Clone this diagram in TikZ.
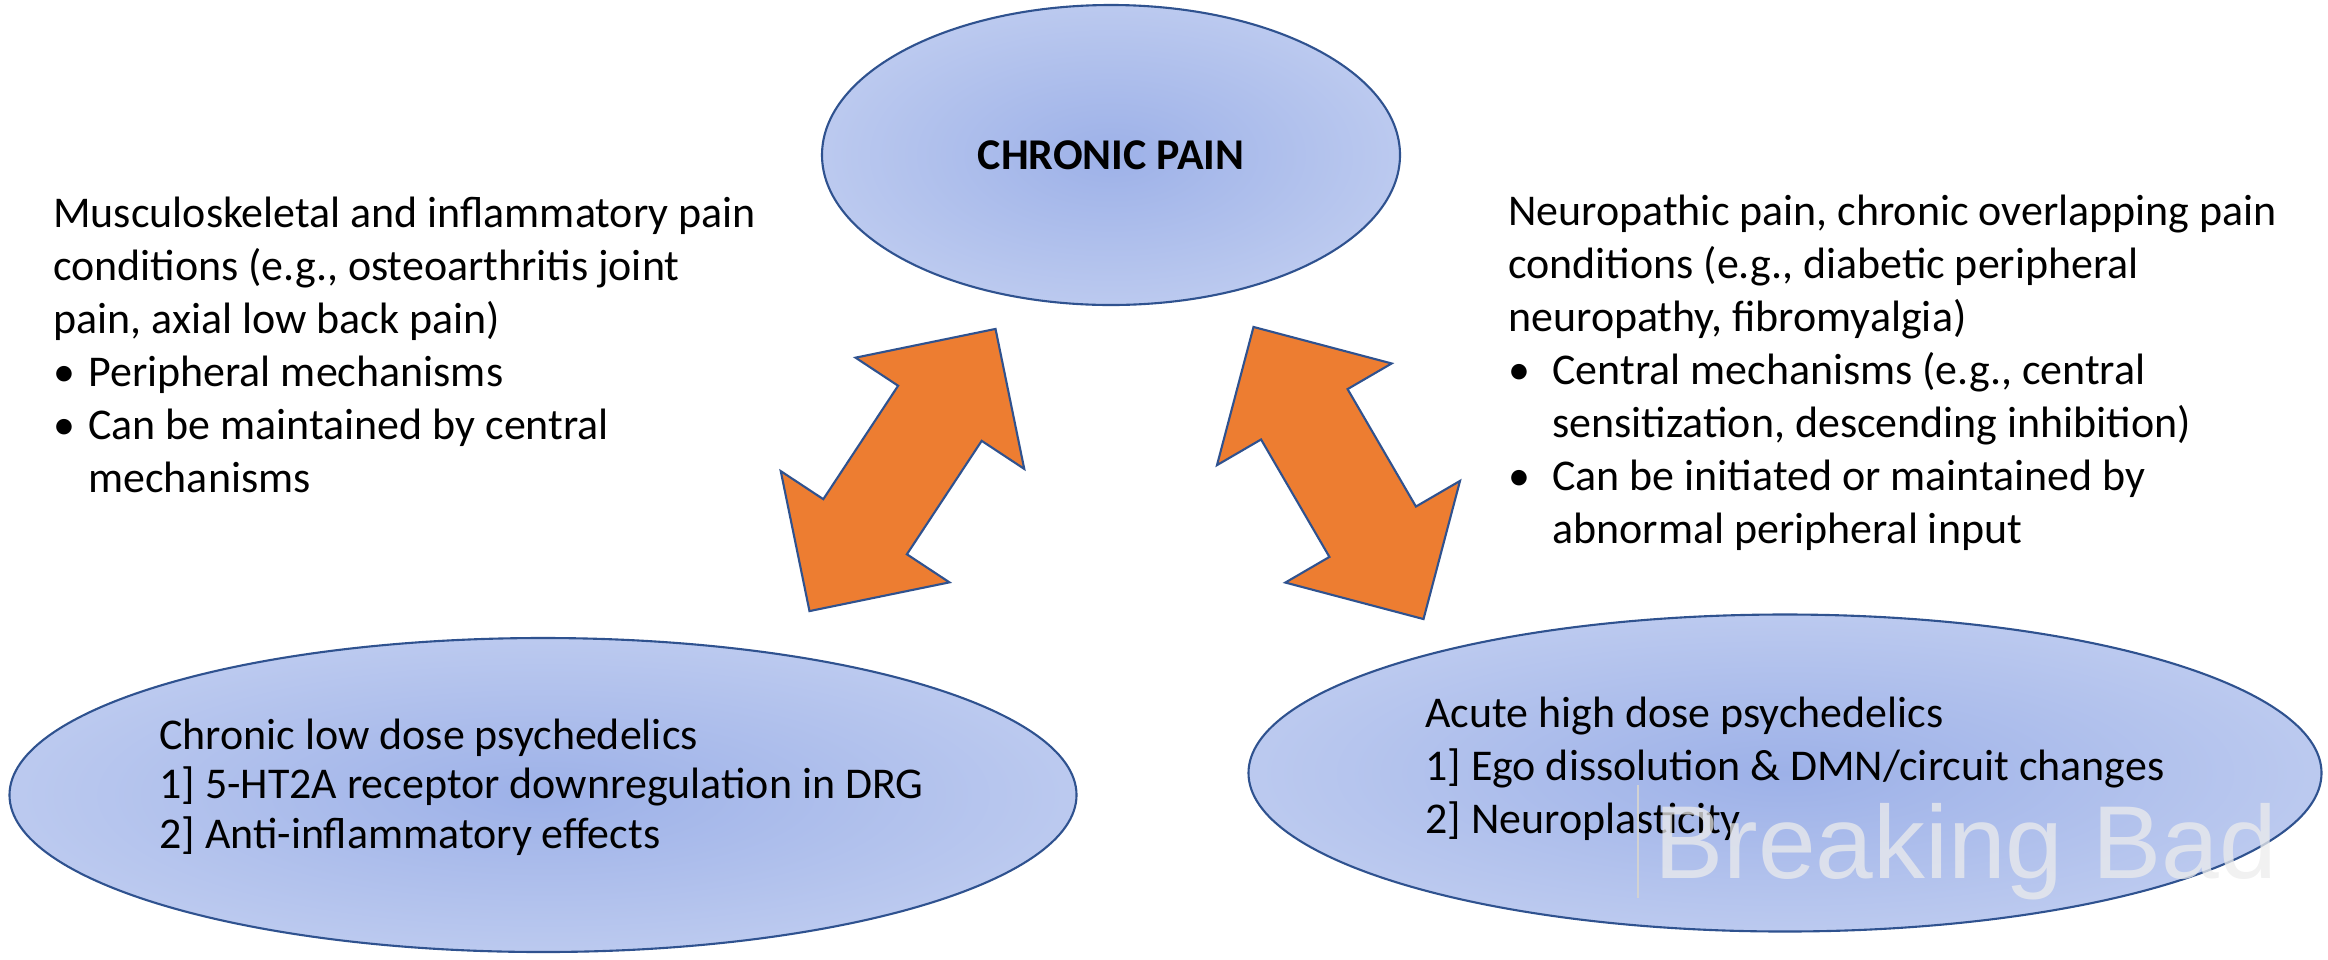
\documentclass[tikz,border=0pt]{standalone}
\usepackage{fontspec}
\setmainfont{Carlito}
\newfontfamily\markfont{Liberation Sans}
\usepackage{xcolor}
\usetikzlibrary{shapes, shapes.arrows, positioning}
\definecolor{painblue}{HTML}{2F528F}
\definecolor{painorange}{HTML}{ED7D31}
\definecolor{shadein}{HTML}{9DB1E8}
\definecolor{shadeout}{HTML}{DAE2F6}
\pgfdeclareradialshading{painshade}{\pgfpoint{0bp}{0bp}}{color(0bp)=(shadein); color(50bp)=(shadeout); color(100bp)=(shadeout)}
\newcommand{\itm}[1]{\makebox[#1][l]{\textbullet}}
\tikzset{
	pain/.style = {ellipse, draw = painblue, line width = 1.2pt, shade, shading = painshade, inner sep = 0pt},
	link/.style = {double arrow, draw = painblue, line width = 1.2pt, fill = painorange, inner sep = 0pt, inner ysep = 9.8mm, double arrow head extend = 10.2mm, minimum height = 67.6mm},
	body/.style = {align = left, inner sep = 0pt, anchor = base west, font = \fontsize{25}{30.1}\selectfont}
}

\begin{document}
\begin{tikzpicture}[x = 0.2mm, y = -0.2mm]
		\useasboundingbox (0, 0) rectangle (2328, 959);
		\node [pain, minimum width = 115.6mm, minimum height = 60mm] (chronic) at (1111, 155) {};
		\node [font = \fontsize{25}{30}\selectfont\bfseries] (chronictxt) at (chronic.center) {CHRONIC PAIN};
		\node [pain, minimum width = 213.4mm, minimum height = 62.8mm] (lowdose) at (543, 795) {};
		\node [pain, minimum width = 214.6mm, minimum height = 63.4mm] (highdose) at (1785, 773) {};

		\node [link, rotate = 56.6] (leftlink) at (902.5, 470) {};
		\node [link, rotate = -59.8] (rightlink) at (1338.5, 473) {};

		\node [body] (musculo) at (53, 492) {Musculoskeletal and inflammatory pain\\conditions (e.g., osteoarthritis joint\\pain, axial low back pain)\\\itm{7mm}Peripheral mechanisms\\\itm{7mm}Can be maintained by central\\\hspace*{7mm}mechanisms};
		\node [body] (neuro) at (1508, 543) {Neuropathic pain, chronic overlapping pain\\conditions (e.g., diabetic peripheral\\neuropathy, fibromyalgia)\\\itm{8.8mm}Central mechanisms (e.g., central\\\hspace*{8.8mm}sensitization, descending inhibition)\\\itm{8.8mm}Can be initiated or maintained by\\\hspace*{8.8mm}abnormal peripheral input};

		\node [body, font = \fontsize{25}{27.9}\selectfont] (lowtxt) at (159, 848) {Chronic low dose psychedelics\\1] 5-HT2A receptor downregulation in DRG\\2] Anti-inflammatory effects};
		\node [body] (hightxt) at (1425, 833) {Acute high dose psychedelics\\1] Ego dissolution \& DMN/circuit changes\\2] Neuroplasticity};

		\node [anchor = base west, inner sep = 0pt, font = \markfont\fontsize{59}{59}\selectfont, text = white!85!gray, opacity = 0.75] (mark) at (1654, 878) {Breaking Bad};
		\draw [gray!35, line width = 0.6pt] (1638, 785) -- (1638, 898);
	\end{tikzpicture}
\end{document}
